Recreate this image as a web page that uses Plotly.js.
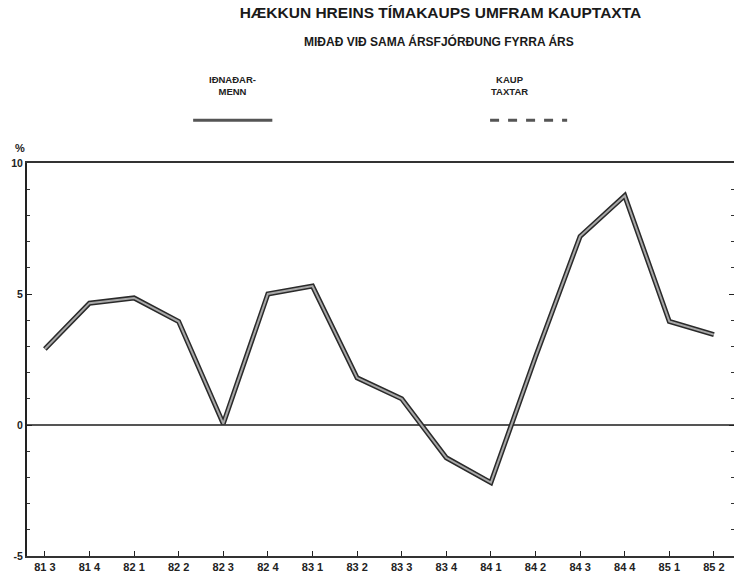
<!DOCTYPE html>
<html>
<head>
<meta charset="utf-8">
<script src="https://cdn.plot.ly/plotly-3.0.1.min.js"></script>
<style>html,body{margin:0;padding:0;background:#fff;}#chart{width:734px;height:579px;}</style>
</head>
<body>
<div id="chart"></div>
<script>
var quarters = ["81 3","81 4","82 1","82 2","82 3","82 4","83 1","83 2","83 3","83 4","84 1","84 2","84 3","84 4","85 1","85 2"];
var idnadarmenn = [2.9, 4.65, 4.85, 3.95, 0.05, 5.0, 5.3, 1.8, 1.0, -1.25, -2.2, 2.6, 7.2, 8.75, 3.95, 3.45];
var yTickVals = [-5, 0, 5, 10];
var yTickText = ["-5", "0", "5", "10"];
var titleText = "HÆKKUN HREINS TÍMAKAUPS UMFRAM KAUPTAXTA";
var subtitleText = "MIÐAÐ VIÐ SAMA ÁRSFJÓRÐUNG FYRRA ÁRS";
var legendLeft = "IÐNAÐAR-<br>MENN";
var legendRight = "KAUP<br>TAXTAR";

var FONT = "Liberation Sans, Arial, sans-serif";
var traces = [
  {x: quarters, y: idnadarmenn, type: "scatter", mode: "lines",
   line: {color: "#2a2a2a", width: 5}, hoverinfo: "skip", showlegend: false},
  {x: quarters, y: idnadarmenn, type: "scatter", mode: "lines",
   line: {color: "#a8a8a8", width: 2}, showlegend: false}
];

var layout = {
  width: 734, height: 579,
  margin: {l: 27, r: 0, t: 163, b: 23},
  paper_bgcolor: "#fff", plot_bgcolor: "#fff",
  showlegend: false,
  title: {text: titleText, x: 0.6, xanchor: "center", y: 0.979, yanchor: "middle",
          font: {family: FONT, size: 15.5, color: "#1a1a1a", weight: "bold"}},
  xaxis: {
    type: "category", range: [-0.4, 15.45],
    showgrid: false, zeroline: false,
    showline: true, linecolor: "#333", linewidth: 2, mirror: true,
    ticks: "inside", ticklen: 5, tickcolor: "#222", tickwidth: 1,
    tickfont: {family: FONT, size: 11, color: "#222", weight: "bold"}
  },
  yaxis: {
    range: [-5, 10], tickvals: yTickVals, ticktext: yTickText,
    showgrid: false,
    zeroline: true, zerolinecolor: "#555", zerolinewidth: 2.5,
    showline: true, linecolor: "#222", linewidth: 2, mirror: "ticks",
    ticks: "inside", ticklen: 5, tickcolor: "#222", tickwidth: 1,
    minor: {dtick: 1, ticks: "inside", ticklen: 3, tickcolor: "#333", showgrid: false},
    tickfont: {family: FONT, size: 10.5, color: "#222", weight: "bold"}
  },
  annotations: [
    {text: subtitleText, xref: "paper", yref: "paper", x: 0.583, y: 1.308, showarrow: false,
     xanchor: "center", yanchor: "middle", font: {family: FONT, size: 12, color: "#1a1a1a", weight: "bold"}},
    {text: "%", xref: "paper", yref: "paper", x: -0.01, y: 1.038, showarrow: false,
     xanchor: "center", yanchor: "middle", font: {family: FONT, size: 11, color: "#222", weight: "bold"}},
    {text: legendLeft, xref: "paper", yref: "paper", x: 0.291, y: 1.198, showarrow: false,
     xanchor: "center", yanchor: "middle", font: {family: FONT, size: 9.5, color: "#222", weight: "bold"}},
    {text: legendRight, xref: "paper", yref: "paper", x: 0.682, y: 1.198, showarrow: false,
     xanchor: "center", yanchor: "middle", font: {family: FONT, size: 9.5, color: "#222", weight: "bold"}}
  ],
  shapes: [
    {type: "line", xref: "paper", yref: "paper", x0: 0.235, x1: 0.347, y0: 1.109, y1: 1.109,
     line: {color: "#555", width: 3}},
    {type: "line", xref: "paper", yref: "paper", x0: 0.655, x1: 0.764, y0: 1.109, y1: 1.109,
     line: {color: "#555", width: 3, dash: "dash"}}
  ]
};

Plotly.newPlot("chart", traces, layout, {staticPlot: true, displayModeBar: false});
</script>
</body>
</html>
